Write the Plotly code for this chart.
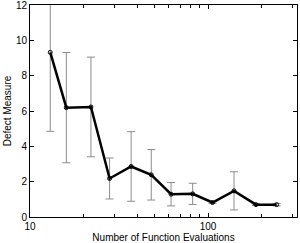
import plotly.graph_objects as go

evals = [13, 16, 22, 28, 37, 48, 62, 82, 106, 140, 186, 243]
defect = [9.32, 6.19, 6.23, 2.18, 2.86, 2.39, 1.29, 1.31, 0.82, 1.48, 0.70, 0.70]
err = [4.47, 3.12, 2.82, 1.16, 1.97, 1.43, 0.66, 0.60, 0.05, 1.08, 0.05, 0.07]

x_ticks = [10, 100]
x_minor = [20, 30, 40, 50, 60, 70, 80, 90, 200, 300]
y_ticks = [0, 2, 4, 6, 8, 10, 12]

fig = go.Figure()
fig.add_trace(go.Scatter(
    x=evals, y=defect, mode="lines+markers",
    line=dict(color="black", width=2.5),
    marker=dict(color="black", size=4, symbol="circle-open", line=dict(width=1, color="#444")),
    error_y=dict(type="data", array=err, visible=True, color="#8c8c8c", thickness=1, width=4),
    showlegend=False, cliponaxis=True,
))

font = dict(family="Liberation Sans, Arial, sans-serif", size=10, color="black")
fig.update_layout(
    width=300, height=243,
    margin=dict(l=30, r=3, t=5, b=26),
    paper_bgcolor="white", plot_bgcolor="white",
    font=font,
    xaxis=dict(
        type="log", range=[1, 2.5], automargin=False,
        tickvals=x_ticks, ticktext=[str(v) for v in x_ticks],
        ticks="inside", ticklen=4, tickcolor="black",
        showgrid=False, zeroline=False,
        showline=True, linecolor="black", linewidth=1, mirror="ticks",
        minor=dict(tickvals=x_minor, ticks="inside", ticklen=3, tickcolor="black", showgrid=False),
        title=dict(text="Number of Function Evaluations", standoff=0, font=dict(size=10)),
        tickfont=dict(size=10),
    ),
    yaxis=dict(
        range=[0, 12.0001], tickvals=y_ticks, automargin=False,
        ticks="inside", ticklen=4, tickcolor="black", ticklabeloverflow="allow",
        showgrid=False, zeroline=False,
        showline=True, linecolor="black", linewidth=1, mirror="ticks",
        title=dict(text="Defect Measure", standoff=2, font=dict(size=10)),
        tickfont=dict(size=10),
    ),
)
fig.write_html("out.html", config={"displayModeBar": False},
               post_script="document.body.style.margin='0';document.body.style.overflow='hidden';")
